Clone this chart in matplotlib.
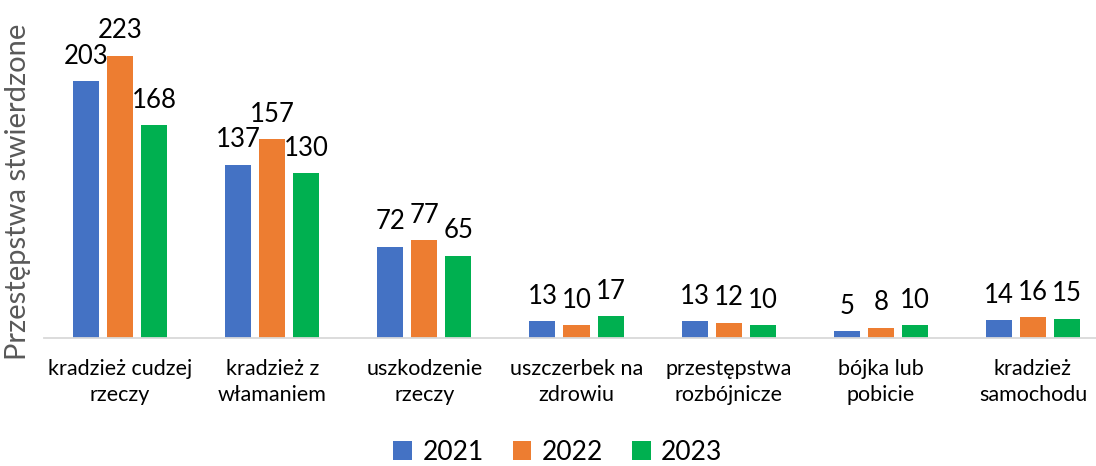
import matplotlib.pyplot as plt
import numpy as np

plt.rcParams['font.family'] = ['Lato', 'DejaVu Sans']

categories = ['kradzież cudzej\nrzeczy', 'kradzież z\nwłamaniem', 'uszkodzenie\nrzeczy',
              'uszczerbek na\nzdrowiu', 'przestępstwa\nrozbójnicze', 'bójka lub\npobicie',
              'kradzież\nsamochodu']
years = ['2021', '2022', '2023']
v2021 = [203, 137, 72, 13, 13, 5, 14]
v2022 = [223, 157, 77, 10, 12, 8, 16]
v2023 = [168, 130, 65, 17, 10, 10, 15]
colors = ['#4472C4', '#ED7D31', '#00B050']

W, H = 1096, 466
fig = plt.figure(figsize=(W / 100, H / 100), dpi=100)
# axes in pixel coords: left 44, right ~1109, baseline at y=337.7 from top
ax = fig.add_axes([44 / W, (H - 337.7) / H, (1109 - 44) / W, 337.7 / H])

x = np.arange(len(categories))
bw = 26 / 152
step = 34 / 152
for i, (vals, col, yr) in enumerate(zip([v2021, v2022, v2023], colors, years)):
    bars = ax.bar(x + (i - 1) * step, vals, width=bw, color=col, label=yr, zorder=2)
    for b, v in zip(bars, vals):
        ax.annotate(str(v), (b.get_x() + b.get_width() / 2, v), xytext=(0, 9),
                    textcoords='offset points', ha='center', va='bottom',
                    fontsize=18.5, color='black')

ax.set_xlim(-0.5, len(categories) - 0.5)
ax.set_ylim(0, 267.2)
ax.set_xticks(x)
ax.set_xticklabels(categories, fontsize=15.5, color='#000000', linespacing=1.4)
ax.tick_params(axis='x', length=0, pad=15)
ax.set_yticks([])
for s in ['top', 'right', 'left']:
    ax.spines[s].set_visible(False)
ax.spines['bottom'].set_color('#D9D9D9')
ax.spines['bottom'].set_linewidth(1.3)

fig.text(18 / W, 1 - 192 / H, 'Przestępstwa stwierdzone', rotation=90, ha='center',
         va='center', fontsize=21, color='#595959')

fig.legend(loc='center', bbox_to_anchor=(558 / W, 1 - 452 / H), ncol=3, frameon=False,
           fontsize=19, handlelength=0.7, handleheight=0.7, handletextpad=0.4,
           columnspacing=1.1, borderpad=0.1)

fig.savefig('out.png', dpi=100)
